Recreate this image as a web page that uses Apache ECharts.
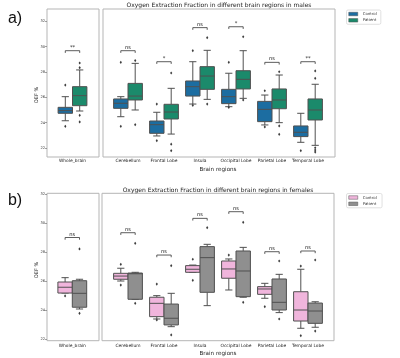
<!DOCTYPE html>
<html><head><meta charset="utf-8">
<script src="https://cdn.jsdelivr.net/npm/echarts@6/dist/echarts.min.js"></script>
<style>html,body{margin:0;padding:0;background:#fff}#c{width:400px;height:358px}</style>
</head><body><div id="c"></div>
<script>
// ---------- data ----------
const regions = ['Cerebellum', 'Frontal Lobe', 'Insula', 'Occipital Lobe', 'Parietal Lobe', 'Temporal Lobe'];
const wholeLabel = ['Whole_brain'];
const yTicks = [22, 24, 26, 28, 30, 32];
const titleMale = 'Oxygen Extraction Fraction in different brain regions in males';
const titleFemale = 'Oxygen Extraction Fraction in different brain regions in females';

// box stats: [min(whisker), Q1, median, Q3, max(whisker)]
const maleWholeControl = [[24.15, 24.74, 24.95, 25.21, 26.05]];
const maleWholePatient = [[24.92, 25.34, 26.13, 26.84, 28.16]];
const maleWholeControlOut = [[0, 26.97], [0, 23.71]];
const maleWholePatientOut = [[0, 28.71], [0, 28.34], [0, 24.58], [0, 24.06]];
const maleWholeSig = ['**'];
const maleWholeSigY = [29.68];

const maleControl = [
  [24.47, 25.13, 25.53, 25.87, 26.05],
  [22.95, 23.16, 23.84, 24.13, 24.82],
  [25.47, 26.10, 26.84, 27.29, 28.81],
  [25.26, 25.50, 26.05, 26.63, 27.90],
  [23.82, 24.08, 25.05, 25.68, 26.18],
  [22.45, 22.90, 23.24, 23.74, 24.74]
];
const malePatient = [
  [25.00, 25.79, 26.10, 27.10, 28.68],
  [23.10, 24.29, 24.84, 25.45, 26.71],
  [25.84, 26.63, 27.68, 28.42, 29.71],
  [25.92, 26.66, 27.42, 28.10, 29.68],
  [24.00, 25.10, 25.79, 26.66, 27.76],
  [22.21, 24.21, 25.00, 25.87, 27.03]
];
const maleControlOut = [[0, 28.76], [0, 23.71], [1, 25.47], [1, 22.58], [2, 29.68], [2, 25.37],
  [3, 28.76], [3, 25.20], [4, 26.52], [4, 23.66], [5, 21.79]];
const malePatientOut = [[0, 28.90], [0, 23.84], [1, 27.92], [1, 22.30], [1, 21.79], [2, 30.71], [2, 25.47],
  [3, 30.78], [3, 25.79], [4, 28.02], [4, 23.74], [4, 23.08], [5, 28.08], [5, 27.50], [5, 22.02], [5, 21.84], [5, 21.68]];
const maleSig = ['ns', '*', 'ns', '*', 'ns', '**'];
const maleSigY = [29.68, 28.81, 31.50, 31.57, 28.76, 28.81];

const femaleWholeControl = [[25.17, 25.17, 25.57, 25.93, 26.23]];
const femaleWholePatient = [[24.07, 24.19, 25.15, 26.02, 26.12]];
const femaleWholeControlOut = [[0, 24.97]];
const femaleWholePatientOut = [[0, 28.21], [0, 23.77]];
const femaleWholeSig = ['ns'];
const femaleWholeSigY = [29.0];

const femaleControl = [
  [26.00, 26.12, 26.34, 26.53, 26.88],
  [23.38, 23.54, 24.46, 24.88, 24.99],
  [26.60, 26.60, 26.81, 27.06, 27.10],
  [25.38, 26.19, 26.83, 27.38, 27.52],
  [24.81, 25.08, 25.45, 25.61, 25.84],
  [22.74, 23.24, 24.00, 25.26, 26.81]
];
const femalePatient = [
  [24.74, 24.74, 26.50, 26.55, 26.60],
  [22.85, 22.97, 23.43, 24.41, 25.15],
  [24.30, 25.22, 27.61, 28.37, 28.53],
  [24.88, 24.92, 26.69, 28.07, 28.32],
  [23.82, 24.00, 24.53, 26.14, 26.46],
  [22.81, 23.08, 23.93, 24.48, 24.57]
];
const femaleControlOut = [[0, 27.15], [0, 25.72], [1, 25.79], [1, 23.31], [2, 27.50], [2, 26.05],
  [3, 27.79], [4, 24.23], [5, 27.03], [5, 22.23]];
const femalePatientOut = [[0, 28.60], [0, 24.46], [1, 27.06], [1, 22.28], [2, 29.68],
  [3, 30.05], [3, 24.53], [4, 27.38], [4, 23.38], [5, 27.45], [5, 22.55]];
const femaleSig = ['ns', 'ns', 'ns', 'ns', 'ns', 'ns'];
const femaleSigY = [29.33, 27.79, 30.32, 30.78, 28.02, 28.07];

// ---------- style ----------
const FONT = 'DejaVu Sans';
const C_BLUE = '#1c6da1', C_GREEN = '#1b8a6b', C_PINK = '#f0b5dc', C_GREY = '#8f8f8f';
const EDGE = '#505050', FRAME = '#b5b5b5';

const chart = echarts.init(document.getElementById('c'), null, {renderer: 'canvas'});

const grids = [], xAxes = [], yAxes = [], series = [];

function addGrid(g, xa, ya) {
  grids.push(g);
  const gi = grids.length - 1;
  xAxes.push(Object.assign({gridIndex: gi}, xa));
  yAxes.push(Object.assign({gridIndex: gi}, ya));
  return gi;
}
const hiddenVal = {type: 'value', show: false, min: 0, max: 1};

function boxSeries(name, stats, ai, side, color) {
  return {
    type: 'custom', name, xAxisIndex: ai, yAxisIndex: ai, clip: false,
    itemStyle: {color},
    data: stats.map((s, i) => [i].concat(s)),
    encode: {x: 0, y: [1, 2, 3, 4, 5]},
    renderItem(params, api) {
      const i = api.value(0);
      const band = api.size([1, 0])[0];
      const w = band * 0.4, off = side * band * 0.2;
      const pMin = api.coord([i, api.value(1)]);
      const pQ1 = api.coord([i, api.value(2)]);
      const pMed = api.coord([i, api.value(3)]);
      const pQ3 = api.coord([i, api.value(4)]);
      const pMax = api.coord([i, api.value(5)]);
      const cx = pMin[0] + off;
      const ls = {stroke: EDGE, lineWidth: 1};
      return {type: 'group', children: [
        {type: 'line', shape: {x1: cx, y1: pQ3[1], x2: cx, y2: pMax[1]}, style: ls},
        {type: 'line', shape: {x1: cx, y1: pQ1[1], x2: cx, y2: pMin[1]}, style: ls},
        {type: 'line', shape: {x1: cx - w / 4, y1: pMax[1], x2: cx + w / 4, y2: pMax[1]}, style: ls},
        {type: 'line', shape: {x1: cx - w / 4, y1: pMin[1], x2: cx + w / 4, y2: pMin[1]}, style: ls},
        {type: 'rect', shape: {x: cx - w / 2, y: pQ3[1], width: w, height: pQ1[1] - pQ3[1]},
          style: {fill: color, stroke: EDGE, lineWidth: 1}},
        {type: 'line', shape: {x1: cx - w / 2, y1: pMed[1], x2: cx + w / 2, y2: pMed[1]}, style: ls}
      ]};
    }
  };
}
function outSeries(name, pts, ai, side) {
  return {
    type: 'custom', name, xAxisIndex: ai, yAxisIndex: ai, clip: false, silent: true,
    data: pts, encode: {x: 0, y: 1},
    renderItem(params, api) {
      const band = api.size([1, 0])[0];
      const p = api.coord([api.value(0), api.value(1)]);
      const x = p[0] + side * band * 0.2, y = p[1];
      return {type: 'polygon', shape: {points: [[x, y - 1.6], [x + 1.1, y], [x, y + 1.6], [x - 1.1, y]]},
        style: {fill: '#3a3a3a'}};
    }
  };
}
function sigSeries(labels, ys, ai) {
  return {
    type: 'custom', name: 'sig', xAxisIndex: ai, yAxisIndex: ai, clip: false, silent: true,
    data: ys.map((y, i) => [i, y]), encode: {x: 0, y: 1},
    renderItem(params, api) {
      const band = api.size([1, 0])[0];
      const p = api.coord([api.value(0), api.value(1)]);
      const x1 = p[0] - band * 0.2, x2 = p[0] + band * 0.2, y = p[1];
      return {type: 'group', children: [
        {type: 'polyline', shape: {points: [[x1, y + 2.2], [x1, y], [x2, y], [x2, y + 2.2]]},
          style: {stroke: '#333', lineWidth: 0.8, fill: null}},
        {type: 'text', x: p[0], y: y - 0.8,
          style: {text: labels[params.dataIndex], fontSize: 5.2, fontFamily: FONT, fill: '#222',
            align: 'center', verticalAlign: 'bottom', textAlign: 'center', textVerticalAlign: 'bottom'}}
      ]};
    }
  };
}

function panel(L) {
  // frames
  addGrid({left: L.wholeLeft, width: L.wholeW, top: L.frameTop, height: L.frameH, show: true,
    borderColor: FRAME, borderWidth: 1, backgroundColor: 'transparent'}, hiddenVal, hiddenVal);
  addGrid({left: L.mainLeft, width: L.mainW, top: L.frameTop, height: L.frameH, show: true,
    borderColor: FRAME, borderWidth: 1, backgroundColor: 'transparent'}, hiddenVal, hiddenVal);
  // y tick axis
  addGrid({left: L.wholeLeft, width: L.wholeW, top: L.tickTop, height: L.tickH}, hiddenVal,
    {type: 'value', min: yTicks[0], max: yTicks[yTicks.length - 1], interval: 2,
      axisLine: {show: false}, splitLine: {show: false},
      axisTick: {show: true, length: 2, lineStyle: {color: '#666', width: 0.6}},
      axisLabel: {fontSize: 3.6, margin: 2, color: '#333', fontFamily: FONT}});
  const yData = {type: 'value', show: false, min: yTicks[0], max: yTicks[yTicks.length - 1]};
  const xCat = (data, extra) => Object.assign({type: 'category', data, boundaryGap: true,
    axisLine: {show: false}, axisTick: {show: false}, splitLine: {show: false},
    axisLabel: {fontSize: 4.4, margin: L.labelMargin, color: '#222', fontFamily: FONT, interval: 0}}, extra);
  const aw = addGrid({left: L.wholeDataLeft, width: L.band, top: L.tickTop, height: L.tickH},
    xCat(wholeLabel), yData);
  const am = addGrid({left: L.mainDataLeft, width: L.band * regions.length, top: L.tickTop, height: L.tickH},
    xCat(regions, {name: 'Brain regions', nameLocation: 'middle', nameGap: L.nameGap,
      nameTextStyle: {fontSize: 5.6, color: '#222', fontFamily: FONT}}), yData);
  const S = L.S;
  series.push(boxSeries(S.nc, S.wc, aw, -1, S.c1), boxSeries(S.np, S.wp, aw, 1, S.c2),
    outSeries('o1', S.wco, aw, -1), outSeries('o2', S.wpo, aw, 1), sigSeries(S.wsig, S.wsigY, aw),
    boxSeries(S.nc, S.rc, am, -1, S.c1), boxSeries(S.np, S.rp, am, 1, S.c2),
    outSeries('o3', S.rco, am, -1), outSeries('o4', S.rpo, am, 1), sigSeries(S.rsig, S.rsigY, am));
}

panel({frameTop: 9, frameH: 148, tickTop: 21.3, tickH: 126.7, wholeLeft: 47, wholeW: 52,
  mainLeft: 103, mainW: 232, band: 36, wholeDataLeft: 54.5, mainDataLeft: 110, labelMargin: 11, nameGap: 18.5,
  S: {nc: 'Control', np: 'Patient', c1: C_BLUE, c2: C_GREEN,
    wc: maleWholeControl, wp: maleWholePatient, wco: maleWholeControlOut, wpo: maleWholePatientOut,
    wsig: maleWholeSig, wsigY: maleWholeSigY, rc: maleControl, rp: malePatient,
    rco: maleControlOut, rpo: malePatientOut, rsig: maleSig, rsigY: maleSigY}});
panel({frameTop: 193.3, frameH: 147.4, tickTop: 194, tickH: 145, wholeLeft: 47, wholeW: 52,
  mainLeft: 102, mainW: 232, band: 36, wholeDataLeft: 54.3, mainDataLeft: 110, labelMargin: 4.5, nameGap: 11.5,
  S: {nc: 'Control ', np: 'Patient ', c1: C_PINK, c2: C_GREY,
    wc: femaleWholeControl, wp: femaleWholePatient, wco: femaleWholeControlOut, wpo: femaleWholePatientOut,
    wsig: femaleWholeSig, wsigY: femaleWholeSigY, rc: femaleControl, rp: femalePatient,
    rco: femaleControlOut, rpo: femalePatientOut, rsig: femaleSig, rsigY: femaleSigY}});

const legendBase = {orient: 'vertical', icon: 'rect', itemWidth: 9, itemHeight: 3.5, itemGap: 2.3,
  textStyle: {fontSize: 3.9, color: '#333', fontFamily: FONT}, borderColor: '#d8d8d8', borderWidth: 0.8,
  borderRadius: 1.5, padding: [2, 4, 2, 2], selectedMode: false, left: 346.5};

const txt = (text, x, y, size, extra) => Object.assign({type: 'text', x, y, silent: true,
  style: {text, fontSize: size, fontFamily: FONT, fill: '#222', align: 'center', verticalAlign: 'middle',
    textAlign: 'center', textVerticalAlign: 'middle'}}, extra || {});

chart.setOption({
  animation: false,
  grid: grids, xAxis: xAxes, yAxis: yAxes, series,
  legend: [
    Object.assign({}, legendBase, {top: 10, data: [
      {name: 'Control', itemStyle: {color: C_BLUE, borderColor: EDGE, borderWidth: 0.5}},
      {name: 'Patient', itemStyle: {color: C_GREEN, borderColor: EDGE, borderWidth: 0.5}}]}),
    Object.assign({}, legendBase, {top: 193.5, data: [
      {name: 'Control ', itemStyle: {color: C_PINK, borderColor: EDGE, borderWidth: 0.5}},
      {name: 'Patient ', itemStyle: {color: C_GREY, borderColor: EDGE, borderWidth: 0.5}}]})
  ],
  graphic: [
    txt(titleMale, 219, 5.8, 6),
    txt(titleFemale, 218, 190, 6),
    txt('a)', 15, 19, 16, {style: {text: 'a)', fontSize: 16, fontFamily: 'Liberation Sans', fill: '#111',
      align: 'center', verticalAlign: 'middle', textAlign: 'center', textVerticalAlign: 'middle'}}),
    txt('b)', 15, 201, 16, {style: {text: 'b)', fontSize: 16, fontFamily: 'Liberation Sans', fill: '#111',
      align: 'center', verticalAlign: 'middle', textAlign: 'center', textVerticalAlign: 'middle'}}),
    txt('OEF %', 37, 95, 5, {rotation: Math.PI / 2}),
    txt('OEF %', 37, 270, 5, {rotation: Math.PI / 2})
  ]
});
</script></body></html>
